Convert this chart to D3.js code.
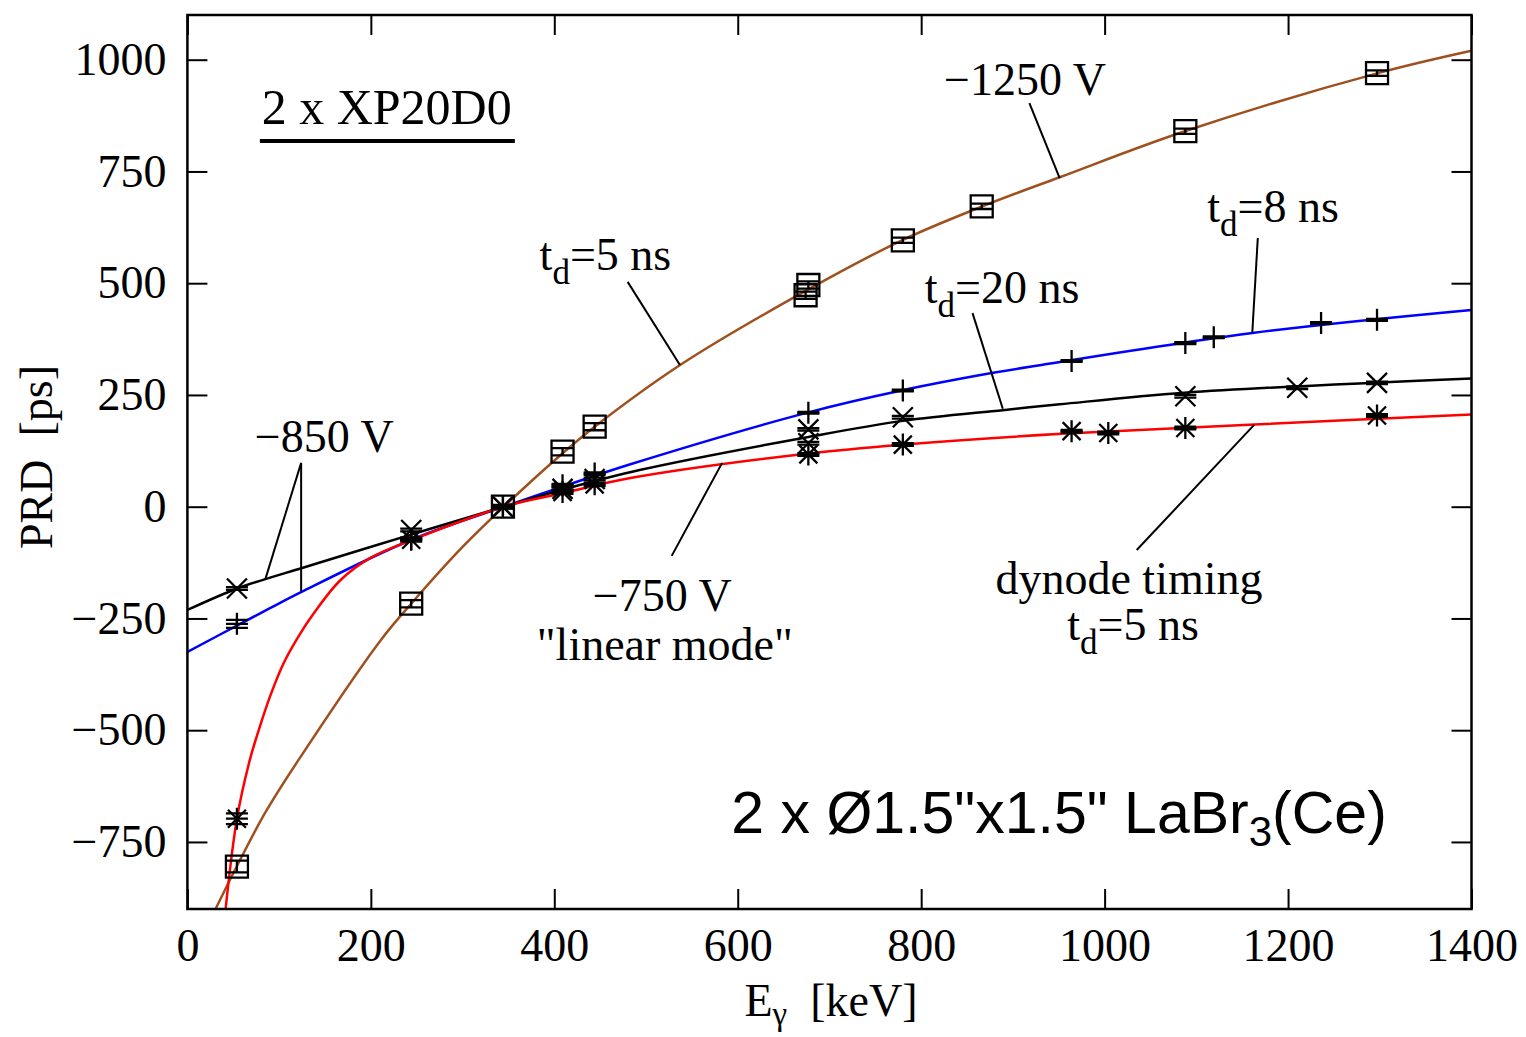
<!DOCTYPE html>
<html>
<head>
<meta charset="utf-8">
<script src="https://cdn.jsdelivr.net/npm/d3@7"></script>
<style>
  body { margin: 0; background: #fff; }
  svg text { font-family: "Liberation Serif", "Times New Roman", serif; fill: #000; }
</style>
</head>
<body>
<div id="chart"></div>
<script>
const sqE    = [54, 244, 344, 409, 444, 674, 677, 780, 866, 1088, 1297];
const sqPRD  = [-805, -217, 0, 123, 179, 473, 496, 596, 672, 840, 970];
const sqErr  = [13, 8, 4, 8, 8, 8, 8, 6, 6, 6, 6];

const plusE   = [54, 244, 344, 409, 444, 677, 780, 964, 1088, 1119, 1236, 1297];
const plusPRD = [-262, -72, 0, 48, 74, 210, 260, 326, 366, 379, 411, 418];
const plusErr = [9, 3, 3, 3, 3, 2, 2, 2, 2, 2, 2, 2];

const crossE   = [54, 244, 344, 409, 444, 677, 677, 780, 1088, 1210, 1297];
const crossPRD = [-183, -52, 0, 40, 62, 173, 142, 200, 247, 266, 277];
const crossErr = [3, 3, 3, 3, 3, 3, 3, 3, 3, 3, 3];

const starE   = [54, 244, 344, 409, 444, 677, 780, 964, 1004, 1088, 1297];
const starPRD = [-698, -74, 0, 33, 50, 117, 139, 169, 165, 176, 204];
const starErr = [12, 4, 3, 4, 4, 3, 3, 3, 3, 3, 3];

// fitted curves, points
const brownE   = [30, 55, 85, 121, 211, 244, 300, 345, 411, 444, 538, 676, 779, 868, 951, 1089, 1300, 1400];
const brownPRD = [-903, -800, -684, -567, -298, -217, -90, 0, 123, 179, 318, 485, 596, 673, 737, 841, 971, 1020];

const blueE   = [0, 54, 90, 125, 243, 345, 409, 483, 677, 781, 880, 931, 1163, 1400];
const bluePRD = [-325, -266, -227, -190, -75, 0, 45, 95, 211, 261, 300, 317, 389, 440];

const blackE   = [0, 54, 85, 125, 243, 345, 409, 493, 677, 780, 889, 951, 1087, 1400];
const blackPRD = [-231, -183, -162, -137, -63, 0, 38, 82, 156, 192, 216, 229, 255, 287];

const redE   = [41.5, 54, 68, 79, 90, 104, 120, 138, 167, 200, 243, 345, 409, 483, 677, 781, 953, 1163, 1400];
const redPRD = [-903, -698, -567, -492, -425, -354, -294, -238, -164, -114, -76, 0, 30, 64, 119, 139, 163, 184, 206];

const xTicks = [0, 200, 400, 600, 800, 1000, 1200, 1400];
const yTicks = [-750, -500, -250, 0, 250, 500, 750, 1000];

const svg = d3.select("#chart").append("svg")
    .attr("width", 1526)
    .attr("height", 1037);

const x = d3.scaleLinear().domain([0, 1400]).range([187.4, 1471.5]);
const y = d3.scaleLinear().domain([-900, 1100]).range([909, 15]);

const plotL = x(0), plotR = x(1400), plotT = y(1100), plotB = y(-900);

svg.append("defs").append("clipPath").attr("id", "plot")
    .append("rect")
    .attr("x", plotL).attr("y", plotT)
    .attr("width", plotR - plotL).attr("height", plotB - plotT);

const fontSize = 46;
const fmt = d => d < 0 ? "\u2212" + Math.abs(d) : String(d);

// axes, ticks pointing inwards
const styleAxis = g => {
    g.select(".domain").remove();
    g.selectAll(".tick line").attr("stroke", "#000").attr("stroke-width", 2);
    g.selectAll(".tick text").style("font-size", fontSize + "px")
        .style("font-family", "'Liberation Serif', 'Times New Roman', serif");
};
svg.append("g").attr("transform", `translate(0,${plotB})`)
    .call(d3.axisBottom(x).tickValues(xTicks).tickSize(-20).tickPadding(19).tickFormat(fmt))
    .call(styleAxis);
svg.append("g").attr("transform", `translate(0,${plotT})`)
    .call(d3.axisTop(x).tickValues(xTicks).tickSize(-20).tickFormat(""))
    .call(styleAxis);
svg.append("g").attr("transform", `translate(${plotL},0)`)
    .call(d3.axisLeft(y).tickValues(yTicks).tickSize(-20).tickPadding(21).tickFormat(fmt))
    .call(styleAxis);
svg.append("g").attr("transform", `translate(${plotR},0)`)
    .call(d3.axisRight(y).tickValues(yTicks).tickSize(-20).tickFormat(""))
    .call(styleAxis);

// axis titles
const xt = svg.append("text")
    .attr("x", 831).attr("y", 1016)
    .attr("text-anchor", "middle")
    .style("font-size", fontSize + "px");
xt.append("tspan").text("E");
xt.append("tspan").attr("dy", 9).style("font-size", "33px").text("\u03b3");
xt.append("tspan").attr("dy", -9).text("\u00a0\u00a0[keV]");

svg.append("text")
    .attr("transform", "translate(52,457) rotate(-90)")
    .attr("text-anchor", "middle")
    .style("font-size", fontSize + "px")
    .text("PRD\u00a0\u00a0[ps]");

// fitted curves
const curves = [
    { E: brownE, P: brownPRD, color: "#a0501e" },
    { E: blueE,  P: bluePRD,  color: "#0000ff" },
    { E: blackE, P: blackPRD, color: "#000000" },
    { E: redE,   P: redPRD,   color: "#ff0000" }
];
const line = d3.line()
    .x(d => x(d[0]))
    .y(d => y(d[1]))
    .curve(d3.curveCatmullRom.alpha(0.5));

const plotArea = svg.append("g").attr("clip-path", "url(#plot)");
plotArea.selectAll("path.fit")
    .data(curves)
    .enter()
    .append("path")
    .attr("class", "fit")
    .attr("d", c => line(c.E.map((e, i) => [e, c.P[i]])))
    .attr("fill", "none")
    .attr("stroke", c => c.color)
    .attr("stroke-width", 2.5);

// markers with error bars
const half = 11;
const symbols = {
    square: `M${-half},${-half}H${half}V${half}H${-half}Z`,
    plus: `M${-half},0H${half}M0,${-half}V${half}`,
    cross: `M-10,-10L10,10M-10,10L10,-10`,
    star: `M${-half},0H${half}M0,${-half}V${half}M-9,-9L9,9M-9,9L9,-9`
};
const series = [
    { E: sqE,    P: sqPRD,    err: sqErr,    sym: "square" },
    { E: plusE,  P: plusPRD,  err: plusErr,  sym: "plus" },
    { E: crossE, P: crossPRD, err: crossErr, sym: "cross" },
    { E: starE,  P: starPRD,  err: starErr,  sym: "star" }
];

series.forEach(s => {
    const pts = s.E.map((e, i) => ({ e: e, p: s.P[i], err: s.err[i] }));
    const g = plotArea.append("g")
        .attr("fill", "none")
        .attr("stroke", "#000")
        .attr("stroke-width", 2.3);
    g.selectAll("path.err")
        .data(pts)
        .enter()
        .append("path")
        .attr("class", "err")
        .attr("d", d => {
            const cx = x(d.e), y1 = y(d.p - d.err), y2 = y(d.p + d.err);
            return `M${cx - half},${y1}H${cx + half}M${cx - half},${y2}H${cx + half}M${cx},${y1}V${y2}`;
        });
    g.selectAll("path.pt")
        .data(pts)
        .enter()
        .append("path")
        .attr("class", "pt")
        .attr("transform", d => `translate(${x(d.e)},${y(d.p)})`)
        .attr("d", symbols[s.sym]);
});

// frame
svg.append("rect")
    .attr("x", plotL).attr("y", plotT)
    .attr("width", plotR - plotL).attr("height", plotB - plotT)
    .attr("fill", "none").attr("stroke", "#000").attr("stroke-width", 2.5);

// labels and leader lines (in data units)
const leaders = [
    [[918, 903], [951, 735]],
    [[480, 503], [537, 317]],
    [[1167, 601], [1161, 389]],
    [[856, 433], [889, 219]],
    [[124, 98], [85, -162]],
    [[124, 98], [124, -189]],
    [[528, -110], [583, 98]],
    [[1035, -97], [1163, 183]]
];
svg.append("g").selectAll("line")
    .data(leaders)
    .enter()
    .append("line")
    .attr("x1", d => x(d[0][0])).attr("y1", d => y(d[0][1]))
    .attr("x2", d => x(d[1][0])).attr("y2", d => y(d[1][1]))
    .attr("stroke", "#000").attr("stroke-width", 2);

const plainLabels = [
    { E: 825, P: 920, text: "\u22121250 V", size: fontSize },
    { E: 73.5, P: 122, text: "\u2212850 V", size: fontSize },
    { E: 442, P: -233, text: "\u2212750 V", size: fontSize },
    { E: 381, P: -342, text: "\"linear mode\"", size: fontSize },
    { E: 881, P: -195, text: "dynode timing", size: fontSize },
    { E: 81, P: 856, text: "2 x XP20D0", size: 50 }
];
svg.append("g").selectAll("text")
    .data(plainLabels)
    .enter()
    .append("text")
    .attr("x", d => x(d.E)).attr("y", d => y(d.P))
    .style("font-size", d => d.size + "px")
    .text(d => d.text);

// underline of the PMT label
svg.append("line")
    .attr("x1", x(79)).attr("x2", x(357))
    .attr("y1", y(818)).attr("y2", y(818))
    .attr("stroke", "#000").attr("stroke-width", 4);

const tdLabels = [
    { E: 384, P: 529, val: "=5 ns", anchor: "start" },
    { E: 1112, P: 637, val: "=8 ns", anchor: "start" },
    { E: 804, P: 456, val: "=20 ns", anchor: "start" },
    { E: 1031, P: -298, val: "=5 ns", anchor: "middle" }
];
tdLabels.forEach(l => {
    const t = svg.append("text")
        .attr("x", x(l.E)).attr("y", y(l.P))
        .attr("text-anchor", l.anchor)
        .style("font-size", fontSize + "px");
    t.append("tspan").text("t");
    t.append("tspan").attr("dy", 14).style("font-size", "35px").text("d");
    t.append("tspan").attr("dy", -14).text(l.val);
});

// crystal label (sans serif)
const cr = svg.append("text")
    .attr("x", x(593)).attr("y", y(-730))
    .style("font-family", "'Liberation Sans', Arial, sans-serif")
    .style("font-size", "59px");
cr.append("tspan").text("2 x \u00d81.5\"x1.5\" LaBr");
cr.append("tspan").attr("dy", 13).style("font-size", "42px").text("3");
cr.append("tspan").attr("dy", -13).text("(Ce)");
</script>
</body>
</html>
